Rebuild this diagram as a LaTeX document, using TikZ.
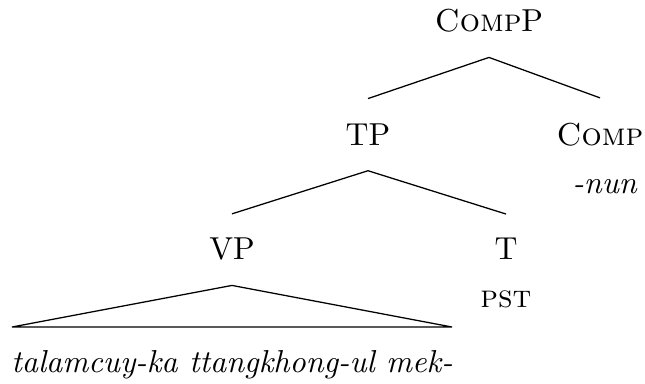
\documentclass[tikz,border=0pt]{standalone}
\usepackage{tikz}

\begin{document}
\begin{tikzpicture}[x=0.315pt, y=-0.315pt, line width=0.4pt]
\tikzset{lbl/.style={inner sep=0pt, anchor=base}}
\useasboundingbox (0,0) rectangle (645,383);
% labels
\node[lbl] (compp) at (489,31)  {\textsc{Comp}P};
\node[lbl] (tp)    at (368,145) {TP};
\node[lbl] (comp)  at (600,145) {\textsc{Comp}};
\node[lbl] (nun)   at (605,193) {\textit{-nun}};
\node[lbl] (vp)    at (232,259) {VP};
\node[lbl] (t)     at (506,259) {T};
\node[lbl] (pst)   at (506,307) {\textsc{pst}};
\node[lbl] (words) at (232,372) {\textit{talamcuy-ka ttangkhong-ul mek-}};
\coordinate (tl) at (12,327);
\coordinate (tr) at (452,327);
% branches
\draw ([yshift=-7.9pt]compp.south) -- ([yshift=7.6pt]tp.north);
\draw ([yshift=-7.9pt]compp.south) -- ([yshift=7.6pt]comp.north);
\draw ([yshift=-7.9pt]tp.south) -- ([yshift=7.2pt]vp.north);
\draw ([yshift=-7.9pt]tp.south) -- ([yshift=7.2pt]t.north);
\draw ([yshift=-7.9pt]vp.south) -- (tl) -- (tr) -- cycle;
\end{tikzpicture}
\end{document}
